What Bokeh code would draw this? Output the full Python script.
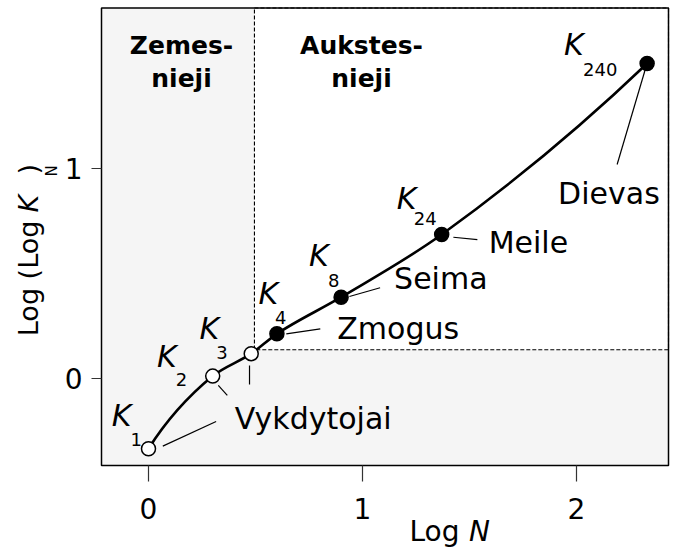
import numpy as np
from bokeh.plotting import figure
from bokeh.models import Label, BoxAnnotation, FixedTicker, Range1d, ColumnDataSource
from bokeh.embed import file_html
from bokeh.resources import INLINE

# ---------------- data ----------------
subscripts = ["1", "2", "3", "4", "8", "24", "240"]
log_n = [0.0, 0.30, 0.48, 0.60, 0.90, 1.37, 2.33]
log_log_k = [-0.337, 0.010, 0.117, 0.212, 0.387, 0.686, 1.503]
is_higher = [False, False, False, True, True, True, True]
boundary_log_n = 0.495
boundary_log_log_k = 0.136
x_ticks = [0, 1, 2]
y_ticks = [0, 1]
roles = ["Vykdytojai", "Zmogus", "Seima", "Meile", "Dievas"]
role_point = [0, 3, 4, 5, 6]            # point each role text belongs to
group_titles = ["Zemes-", "nieji", "Aukstes-", "nieji"]

# ---------------- layout / style ----------------
FIG_W, FIG_H = 676, 549
XS, YS = 214.0, 209.4          # px per unit
X_ZERO_PX, Y_ZERO_PX = 148.0, 377.7
X0 = -X_ZERO_PX / XS
X1 = (FIG_W - X_ZERO_PX) / XS
Y1 = Y_ZERO_PX / YS
Y0 = (Y_ZERO_PX - FIG_H) / YS
SHIFT = 0.33                   # baseline correction, fraction of font size

def sx(px):
    return X0 + px / XS

def sy(py):
    return Y1 - py / YS

BOX_L, BOX_R, BOX_T, BOX_B = sx(101), sx(668), sy(7.5), sy(465)

FONT = "DejaVu Sans"
K_OFF = [(-36.7, -23.3), (-55.7, -9.7), (-51.7, -15.3), (-18.3, -30.3),
         (-32, -31.7), (-45, -26), (-83, -9)]
SUB_OFF = [(-18, -3.3), (-37, 9.3), (-35, 4.7), (-2, -10.3),
           (-13, -10.7), (-28, -10), (-64, 12)]
LEAD_OFF = [((14.3, -2.6), (67.6, -27.3)), ((5.6, 9.3), (14.6, 19.3)),
            ((-1.7, 11.7), (-1.7, 30.7)), ((9.4, 0), (43.4, -5)),
            ((8.3, -0.7), (39, -9.4)), ((11.7, 2.7), (35.7, 5)),
            ((-1, 3), (-30, 101))]
ROLE_OFF = [(86.3, -20.3), (60.4, 4.7), (53, -8.7), (47, 18), (-89, 140)]

p = figure(width=FIG_W, height=FIG_H, output_backend="svg", toolbar_location=None,
           title=None, x_range=Range1d(X0, X1), y_range=Range1d(Y0, Y1),
           min_border=0)
p.background_fill_color = "white"
p.border_fill_color = "white"
p.outline_line_color = None
p.xgrid.visible = False
p.ygrid.visible = False

for ax, ticks, tout, loc in ((p.xaxis, x_ticks, 16, BOX_B), (p.yaxis, y_ticks, 10, BOX_L)):
    ax.fixed_location = loc
    ax.ticker = FixedTicker(ticks=ticks)
    ax.minor_tick_line_color = None
    ax.major_tick_in = 0
    ax.major_tick_out = tout
    ax.major_tick_line_color = "#333333"
    ax.major_tick_line_width = 1.2
    ax.axis_line_color = None
    ax.major_label_text_font = FONT
    ax.major_label_text_font_size = "28px"
    ax.major_label_text_color = "black"
p.xaxis.major_label_standoff = 16
p.yaxis.major_label_standoff = 9

# plot area: grey background, white upper-right region with dashed border, frame
p.add_layout(BoxAnnotation(left=BOX_L, right=BOX_R, top=BOX_T, bottom=BOX_B,
                           fill_color="#f5f5f5", fill_alpha=1.0, line_color=None,
                           level="underlay"))
p.add_layout(BoxAnnotation(left=boundary_log_n, right=BOX_R, top=BOX_T,
                           bottom=boundary_log_log_k,
                           fill_color="white", fill_alpha=1.0,
                           line_color="black", line_alpha=1.0, line_width=1.1,
                           line_dash="4 2", level="underlay"))
p.add_layout(BoxAnnotation(left=BOX_L, right=BOX_R, top=BOX_T, bottom=BOX_B,
                           fill_color=None, fill_alpha=0, line_color="black",
                           line_alpha=1.0, line_width=1.5, level="underlay"))

# smooth curve through the points (cubic Bezier pieces)
P = np.column_stack([np.array(log_n) * XS, np.array(log_log_k) * YS])
ch = np.diff(P, axis=0)
ln = np.hypot(ch[:, 0], ch[:, 1])
u = ch / ln[:, None]
t = np.zeros_like(P)
for i in range(1, len(P) - 1):
    v = u[i - 1] + u[i]
    t[i] = v / np.hypot(*v)
t[0] = 2 * u[0] * np.dot(u[0], t[1]) - t[1]
t[-1] = 2 * u[-1] * np.dot(u[-1], t[-2]) - t[-2]
c0 = P[:-1] + t[:-1] * ln[:, None] / 3
c1 = P[1:] - t[1:] * ln[:, None] / 3
p.bezier(x0=P[:-1, 0] / XS, y0=P[:-1, 1] / YS, x1=P[1:, 0] / XS, y1=P[1:, 1] / YS,
         cx0=c0[:, 0] / XS, cy0=c0[:, 1] / YS, cx1=c1[:, 0] / XS, cy1=c1[:, 1] / YS,
         line_color="black", line_width=2.6)

# leader lines
lx0, ly0, lx1, ly1 = [], [], [], []
for i, ((a, b), (c, d)) in enumerate(LEAD_OFF):
    lx0.append(log_n[i] + a / XS); ly0.append(log_log_k[i] - b / YS)
    lx1.append(log_n[i] + c / XS); ly1.append(log_log_k[i] - d / YS)
p.segment(lx0, ly0, lx1, ly1, line_color="black", line_width=1.2)

# points
src = ColumnDataSource(dict(x=log_n, y=log_log_k,
                            fill=["black" if h else "white" for h in is_higher]))
p.scatter("x", "y", source=src, size=14, marker="circle", fill_color="fill",
          line_color="black", line_width=1.5)

def point_label(i, off, text, size, style="normal"):
    ox, oy = off
    p.add_layout(Label(x=log_n[i], y=log_log_k[i], x_offset=ox,
                       y_offset=-oy + SHIFT * size, text=text, text_font=FONT,
                       text_font_style=style, text_font_size=f"{size}px",
                       text_color="black", text_baseline="alphabetic",
                       text_align="left"))

# K labels
for i, s in enumerate(subscripts):
    point_label(i, K_OFF[i], "K", 30, "italic")
    point_label(i, SUB_OFF[i], s, 18)

# role texts
for j, r in enumerate(roles):
    point_label(role_point[j], ROLE_OFF[j], r, 30)

# group titles
for txt, cx, base in zip(group_titles, [181, 181, 361, 361], [53, 86, 53, 86]):
    p.add_layout(Label(x=sx(cx), y=sy(base - SHIFT * 25), text=txt, text_font=FONT,
                       text_font_style="bold", text_font_size="25px",
                       text_color="black", text_align="center",
                       text_baseline="alphabetic"))

# x axis title: "Log N"
for txt, lx, style in (("Log ", 409, "normal"), ("N", 468.4, "italic")):
    p.add_layout(Label(x=sx(lx), y=sy(540 - SHIFT * 28), text=txt, text_font=FONT,
                       text_font_style=style, text_font_size="28px",
                       text_color="black", text_baseline="alphabetic",
                       text_align="left"))

# y axis title: "Log (Log K_N)"
for txt, bx, by, style, size in (("Log (Log ", 36.7, 335.7, "normal", 27),
                                 ("K", 36.7, 212, "italic", 27),
                                 ("N", 56, 176, "normal", 15),
                                 (")", 36.7, 174, "normal", 27)):
    p.add_layout(Label(x=sx(bx - SHIFT * size), y=sy(by), text=txt, text_font=FONT,
                       text_font_style=style, text_font_size=f"{size}px",
                       text_color="black", angle=np.pi / 2,
                       text_baseline="alphabetic", text_align="left"))

open("out.html", "w").write(file_html(p, INLINE))
